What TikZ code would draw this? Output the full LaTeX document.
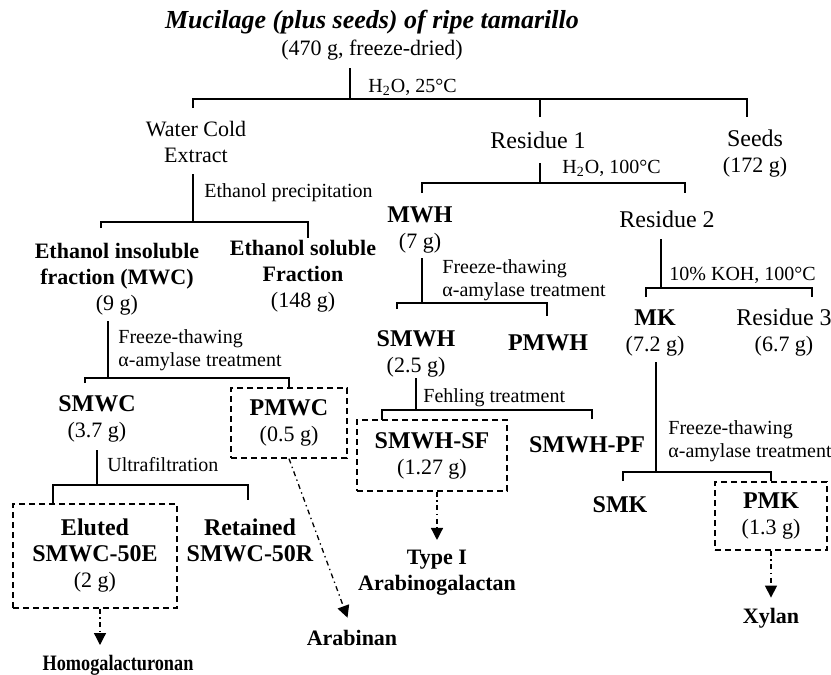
\documentclass[tikz,border=0pt]{standalone}
\usepackage{fontspec}
\usepackage{graphicx}
\setmainfont{Liberation Serif}
\usetikzlibrary{arrows.meta}

\newcommand{\nm}[1]{{\fontsize{12}{13}\selectfont\bfseries #1}}
\newcommand{\rs}[1]{{\fontsize{12}{13}\selectfont #1}}

\tikzset{
  frac/.style={font=\fontsize{11}{13}\selectfont, align=center, inner sep=0pt},
  cond/.style={font=\fontsize{10}{11.5}\selectfont, align=left, anchor=west, inner sep=0pt},
  leaf/.style={font=\fontsize{11}{13}\selectfont\bfseries, align=center, inner sep=0pt},
  dbox/.style={draw, line width=0.65pt, dash pattern=on 3.2pt off 1.8pt},
  link/.style={line width=0.9pt},
  route/.style={line width=0.65pt, dash pattern=on 2.5pt off 1.8pt on 0.7pt off 1.8pt,
    -{Triangle[width=6pt,length=6pt]}}
}

\begin{document}
\begin{tikzpicture}[x=0.5pt,y=-0.5pt]
      \useasboundingbox (0,0) rectangle (831,675);

      % fractions
      \begin{scope}[every node/.style={frac}]
        \node (title) at (372,22) {\fontsize{13}{15}\selectfont\bfseries\itshape Mucilage (plus seeds) of ripe tamarillo};
        \node (amt) at (372,50) {(470 g, freeze-dried)};
        \node (wce) at (196,142) {Water Cold\\Extract};
        \node (res1) at (538,140) {\rs{Residue 1}};
        \node (seeds) at (755,154) {\rs{Seeds}\\(172 g)};
        \node (eins) at (117,279) {\textbf{Ethanol insoluble}\\\textbf{fraction (MWC)}\\(9 g)};
        \node (esol) at (303,276) {\textbf{Ethanol soluble}\\\textbf{Fraction}\\(148 g)};
        \node (mwh) at (420,230) {\nm{MWH}\\(7 g)};
        \node (res2) at (667,219) {\rs{Residue 2}};
        \node (smwh) at (416,354) {\nm{SMWH}\\(2.5 g)};
        \node (pmwh) at (548,343) {\nm{PMWH}};
        \node (smwhpf) at (587,445) {\nm{SMWH-PF}};
        \node (mk) at (655,333) {\nm{MK}\\(7.2 g)};
        \node (res3) at (784,333) {\rs{Residue 3}\\(6.7 g)};
        \node (smk) at (620,505) {\nm{SMK}};
        \node (smwc) at (97,419) {\nm{SMWC}\\(3.7 g)};
        \node (retained) at (250,540) {\nm{Retained}\\\nm{SMWC-50R}};

        \begin{scope}[every node/.append style={dbox}]
          \node[minimum width=75pt,minimum height=35.5pt] (smwhsf) at (432,455.5) {\nm{SMWH-SF}\\(1.27 g)};
          \node[minimum width=56pt,minimum height=34pt] (pmk) at (771,516) {\nm{PMK}\\(1.3 g)};
          \node[minimum width=58pt,minimum height=35pt] (pmwc) at (289,423) {\nm{PMWC}\\(0.5 g)};
          \node[minimum width=82pt,minimum height=52pt] (eluted) at (95,556) {\nm{Eluted}\\\nm{SMWC-50E}\\(2 g)};
        \end{scope}
      \end{scope}

      % end products
      \begin{scope}[every node/.style={leaf}]
        \node (type1) at (437,573) {Type I\\Arabinogalactan};
        \node (xylan) at (771,618) {Xylan};
        \node (arab) at (352,638) {Arabinan};
        \node (homo) at (118,665) {\scalebox{0.83}[1]{Homogalacturonan}};
      \end{scope}

      % treatments
      \begin{scope}[every node/.style={cond}]
        \node (c0) at (368,87) {H\textsubscript{2}O, 25°C};
        \node (c1) at (204,193) {Ethanol precipitation};
        \node (c2) at (562,168) {H\textsubscript{2}O, 100°C};
        \node (c3) at (442,280) {Freeze-thawing\\α-amylase treatment};
        \node (c4) at (423,398) {Fehling treatment};
        \node (c5) at (669,275) {10\% KOH, 100°C};
        \node (c6) at (668,441) {Freeze-thawing\\α-amylase treatment};
        \node (c7) at (118,350) {Freeze-thawing\\α-amylase treatment};
        \node (c8) at (107,465) {Ultrafiltration};
      \end{scope}

      % bracket points
      \coordinate (t0) at (350,68);  \coordinate (j0) at (350,99);
      \coordinate (d0a) at (193,108); \coordinate (d0b) at (540,117); \coordinate (d0c) at (747,117);
      \coordinate (t1) at (193,174); \coordinate (j1) at (193,222);
      \coordinate (d1a) at (101,228); \coordinate (d1b) at (308,238);
      \coordinate (t2) at (540,163); \coordinate (j2) at (540,183);
      \coordinate (d2a) at (422,193); \coordinate (d2b) at (685,193);
      \coordinate (t3) at (422,258); \coordinate (j3) at (422,303);
      \coordinate (d3a) at (397,309); \coordinate (d3b) at (547,316);
      \coordinate (t4) at (416,378); \coordinate (j4) at (416,410);
      \coordinate (d4a) at (382,420); \coordinate (d4b) at (592,419);
      \coordinate (t5) at (661,239); \coordinate (j5) at (661,288);
      \coordinate (d5a) at (646,297); \coordinate (d5b) at (812,297);
      \coordinate (t6) at (656,362); \coordinate (j6) at (656,472);
      \coordinate (d6a) at (623,481);
      \coordinate (t7) at (108,321); \coordinate (j7) at (108,378);
      \coordinate (d7a) at (85,383);
      \coordinate (t8) at (97,450); \coordinate (j8) at (97,485);
      \coordinate (d8a) at (53,504); \coordinate (d8b) at (248,500);
      \coordinate (h0) at (100,645);

      \begin{scope}[every path/.style={link}]
        \draw (t0) -- (j0) (d0a) |- (d0c |- j0) -- (d0c) (d0b) -- (d0b |- j0);
        \draw (t1) -- (j1) (d1a) |- (d1b |- j1) -- (d1b);
        \draw (t2) -- (j2) (d2a) |- (d2b |- j2) -- (d2b);
        \draw (t3) -- (j3) (d3a) |- (d3b |- j3) -- (d3b);
        \draw (t4) -- (j4) (d4a) |- (d4b |- j4) -- (d4b);
        \draw (t5) -- (j5) (d5a) |- (d5b |- j5) -- (d5b);
        \draw (t6) -- (j6) (d6a) |- (pmk.north |- j6) -- (pmk.north);
        \draw (t7) -- (j7) (d7a) |- (pmwc.north |- j7) -- (pmwc.north);
        \draw (t8) -- (j8) (d8a) |- (d8b |- j8) -- (d8b);
      \end{scope}

      \draw[route, shorten >=6.5pt] (pmwc.south) -- (arab.north);
      \draw[route, shorten >=5pt] (type1.north |- smwhsf.south) -- (type1.north);
      \draw[route, shorten >=5pt] (xylan.north |- pmk.south) -- (xylan.north);
      \draw[route] (h0 |- eluted.south) -- (h0);

    \end{tikzpicture}
\end{document}
